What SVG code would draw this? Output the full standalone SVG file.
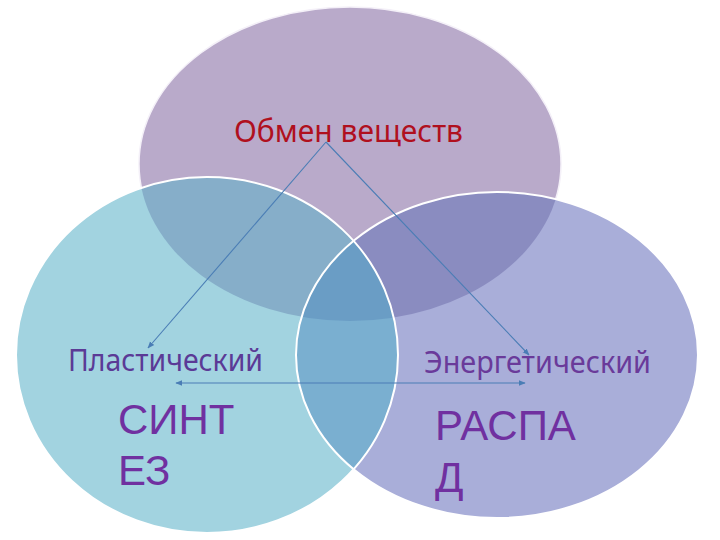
<svg xmlns="http://www.w3.org/2000/svg" width="720" height="540" viewBox="0 0 720 540">
<style>
.lbl{font-family:"Noto Sans","Open Sans",sans-serif;}
.big{font-family:"Liberation Sans",Arial,sans-serif;font-size:42px;fill:#7030a0;}
.con{stroke:#4a7db5;stroke-width:1.1;fill:none;}
.edge{fill:none;stroke:#ffffff;stroke-width:2;}
</style>
<defs>
<clipPath id="cTop"><ellipse cx="350" cy="164" rx="211" ry="157"/></clipPath>
<clipPath id="cLeft"><ellipse cx="207" cy="355" rx="191" ry="178"/></clipPath>
<clipPath id="cRight"><ellipse cx="497" cy="355" rx="201" ry="163"/></clipPath>
<marker id="ah" viewBox="0 0 10 10" refX="9" refY="5" markerWidth="7" markerHeight="7" orient="auto-start-reverse" markerUnits="userSpaceOnUse">
<path d="M0,1 L10,5 L0,9 z" fill="#4a7db5"/>
</marker>
</defs>
<rect width="720" height="540" fill="#ffffff"/>
<g id="circle-top">
<ellipse cx="350" cy="164" rx="211" ry="157" fill="#b9aaca" stroke="#f4f0f8" stroke-width="1.5"/>
</g>
<g id="circle-left">
<ellipse cx="207" cy="355" rx="191" ry="178" fill="#a2d3e0"/>
</g>
<g id="circle-right">
<ellipse cx="497" cy="355" rx="201" ry="163" fill="#a9aed9"/>
</g>
<g id="overlaps">
<ellipse cx="207" cy="355" rx="191" ry="178" fill="#86aec9" clip-path="url(#cTop)"/>
<ellipse cx="497" cy="355" rx="201" ry="163" fill="#8a8cc0" clip-path="url(#cTop)"/>
<ellipse cx="497" cy="355" rx="201" ry="163" fill="#7aafd0" clip-path="url(#cLeft)"/>
<g clip-path="url(#cTop)"><ellipse cx="497" cy="355" rx="201" ry="163" fill="#6a9dc5" clip-path="url(#cLeft)"/></g>
<ellipse class="edge" cx="207" cy="355" rx="191" ry="178"/>
<ellipse class="edge" cx="497" cy="355" rx="201" ry="163"/>
</g>
<g id="node-metabolism">
<text class="lbl" x="234" y="142" font-size="31" fill="#b0101e" textLength="229" lengthAdjust="spacingAndGlyphs">Обмен веществ</text>
</g>
<g id="node-plastic">
<text class="lbl" x="68" y="371" font-size="30" fill="#5b3a96" textLength="195" lengthAdjust="spacingAndGlyphs">Пластический</text>
<text class="big" x="118" y="434">СИНТ</text>
<text class="big" x="118" y="485">ЕЗ</text>
</g>
<g id="node-energy">
<text class="lbl" x="424" y="373" font-size="30" fill="#6a3a9a" textLength="227" lengthAdjust="spacingAndGlyphs">Энергетический</text>
<text class="big" x="435" y="440">РАСПА</text>
<text class="big" x="435" y="492">Д</text>
</g>
<g id="connectors">
<line class="con" x1="326" y1="142" x2="148" y2="348" marker-end="url(#ah)"/>
<line class="con" x1="326" y1="142" x2="529" y2="355" marker-end="url(#ah)"/>
<line class="con" x1="176" y1="383" x2="525" y2="383" marker-start="url(#ah)" marker-end="url(#ah)"/>
</g>
</svg>
